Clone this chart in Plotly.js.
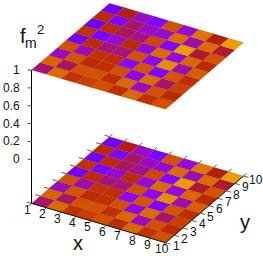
<!DOCTYPE html>
<html><head><meta charset="utf-8">
<script src="https://cdn.plot.ly/plotly-3.0.1.min.js"></script>
<style>html,body{margin:0;padding:0;background:#fff;overflow:hidden}</style>
</head><body><div id="chart" style="width:263px;height:256px"></div>
<script>
const xTicks=[1,2,3,4,5,6,7,8,9,10];
const yTicks=[1,2,3,4,5,6,7,8,9,10];
const zTicks=[0,0.2,0.4,0.6,0.8,1];
const zBase=-0.494;
const zTop=1;
// palette position of each cell; row = y cell, column = x cell
const row1=[0.43,0.75,0.58,0.63,0.68,0.56,0.74,0.58,0.68];
const row2=[0.73,0.44,0.68,0.68,0.56,0.74,0.37,0.68,0.55];
const row3=[0.37,0.69,0.55,0.57,0.68,0.33,0.75,0.43,0.63];
const row4=[0.68,0.38,0.58,0.56,0.30,0.69,0.25,0.69,0.56];
const row5=[0.21,0.55,0.42,0.42,0.68,0.31,0.82,0.38,0.72];
const row6=[0.58,0.24,0.35,0.55,0.34,0.75,0.34,0.74,0.55];
const row7=[0.20,0.55,0.44,0.41,0.65,0.27,0.85,0.47,0.69];
const row8=[0.55,0.25,0.44,0.36,0.34,0.75,0.38,0.75,0.47];
const row9=[0.21,0.49,0.36,0.25,0.68,0.34,0.77,0.49,0.85];
const rows=[row1,row2,row3,row4,row5,row6,row7,row8,row9];

function pal(g){
  const r=Math.sqrt(g),gr=g*g*g,b=Math.max(0,Math.sin(2*Math.PI*g));
  return `rgb(${Math.round(r*255)},${Math.round(gr*255)},${Math.round(b*255)})`;
}
function P(i,j,z){
  const px=31.5+14.9*(i-1)+8.67*(j-1);
  const py=159.3-89.3*z+4.37*(i-1)-7.42*(j-1);
  return [px,py];
}
const traces=[];
function line(pts,color,width){
  traces.push({type:'scatter',mode:'lines',x:pts.map(p=>p[0]),y:pts.map(p=>p[1]),
    line:{color,width},hoverinfo:'skip',showlegend:false});
}
[zBase,zTop].forEach(z=>{
  rows.forEach((row,j)=>row.forEach((g,i)=>{
    const c=[P(i+1,j+1,z),P(i+2,j+1,z),P(i+2,j+2,z),P(i+1,j+2,z),P(i+1,j+1,z)];
    traces.push({type:'scatter',mode:'lines',x:c.map(p=>p[0]),y:c.map(p=>p[1]),fill:'toself',
      fillcolor:pal(g),line:{color:'rgba(50,0,0,0.22)',width:0.4},hoverinfo:'skip',showlegend:false});
  }));
});
const T=0.33;
line([P(1,1,zBase),P(10,1,zBase),P(10,10,zBase)],'#111',1);
xTicks.forEach(t=>{
  line([P(t,1,zBase),P(t,1-T,zBase)],'#333',0.8);
  line([P(t,10,zBase),P(t,10+T,zBase)],'#333',0.8);
});
yTicks.forEach(t=>{
  line([P(1,t,zBase),P(1-T,t,zBase)],'#333',0.8);
  line([P(10,t,zBase),P(10+T,t,zBase)],'#333',0.8);
});
line([P(1,1,zTop),P(1,1,zBase)],'#000',1);
zTicks.forEach(t=>{
  const p=P(1,1,t);
  line([p,[p[0]-4,p[1]]],'#555',1);
});
const ann=[];
function txt(x,y,text,size){
  ann.push({x,y,text:String(text),xref:'x',yref:'y',showarrow:false,xanchor:'center',yanchor:'middle',
    font:{family:'Liberation Sans',size,color:'#111'}});
}
xTicks.forEach(t=>{const p=P(t,1,zBase);txt(p[0]-3.6,p[1]+6.6,t,12);});
yTicks.forEach(t=>{const p=P(10,t,zBase);txt(p[0]+(t==10?12:10.5),p[1]+3.7,t,12);});
zTicks.forEach(t=>{const p=P(1,1,t);ann.push({x:p[0]-10,y:p[1],text:String(t),xref:'x',yref:'y',showarrow:false,
  xanchor:'right',yanchor:'middle',font:{family:'Liberation Sans',size:12,color:'#111'}});});
txt(78,243,'x',20);
txt(245,222,'y',20);
txt(22.5,36,'f',20);
txt(30.5,43,'m',14);
txt(40,29,'2',13);
Plotly.newPlot('chart',traces,{
  width:263,height:256,margin:{l:0,r:0,t:0,b:0},paper_bgcolor:'#fff',plot_bgcolor:'#fff',showlegend:false,
  xaxis:{range:[0,263],visible:false,fixedrange:true},
  yaxis:{range:[256,0],visible:false,fixedrange:true},
  annotations:ann
},{displayModeBar:false,staticPlot:true});
</script></body></html>
